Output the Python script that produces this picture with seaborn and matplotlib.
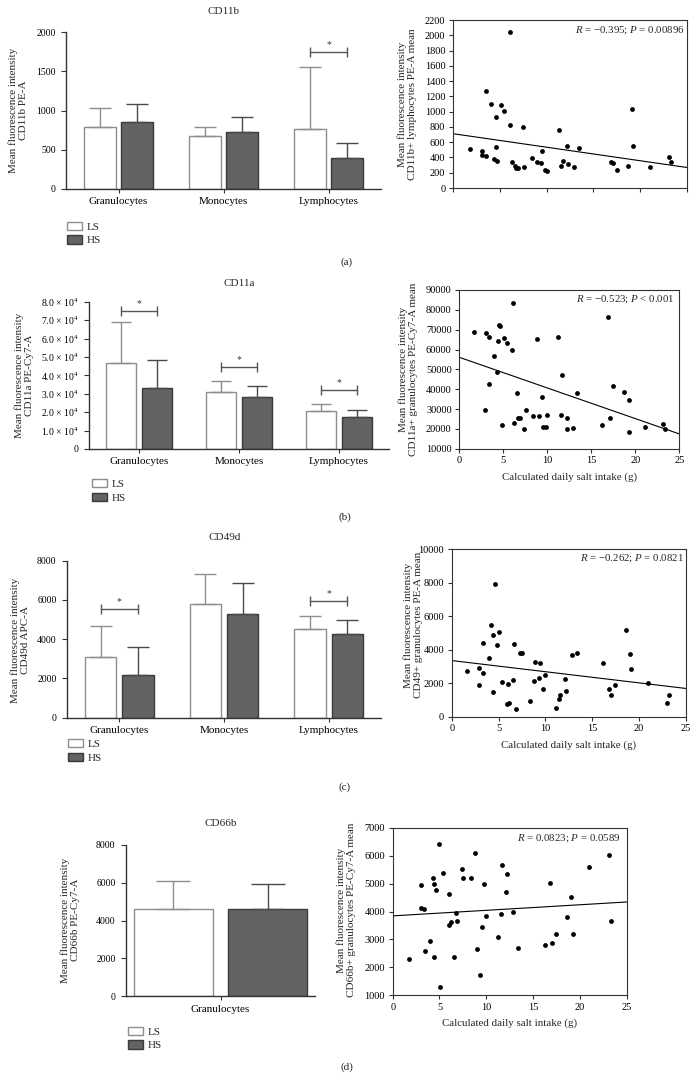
#!/bin/env python

import pandas as pd

import matplotlib
matplotlib.use('agg')
import matplotlib.pyplot as plt
from matplotlib.patches import Patch
import seaborn as sns

W, H = 700, 1089

cells = ['Granulocytes', 'Monocytes', 'Lymphocytes']
groups = ['LS', 'HS']

# bar panels: mean and SD (upper bar only)
cd11b_ls = [793, 669, 763]
cd11b_ls_sd = [239, 116, 785]
cd11b_hs = [849, 725, 392]
cd11b_hs_sd = [238, 187, 188]
cd11b_sig = {'Lymphocytes': 1748}
cd11b_ticks = [0, 500, 1000, 1500, 2000]

cd11a_ls = [46500, 30950, 20630]
cd11a_ls_sd = [22280, 5790, 3620]
cd11a_hs = [33300, 28420, 17560]
cd11a_hs_sd = [15210, 5790, 3440]
cd11a_sig = {'Granulocytes': 74750, 'Monocytes': 44350, 'Lymphocytes': 32040}
cd11a_ticks = [0, 1e4, 2e4, 3e4, 4e4, 5e4, 6e4, 7e4, 8e4]
cd11a_ticklabels = ['0'] + ['%d.0 \u00d7 10$^{4}$' % i for i in range(1, 9)]

cd49d_ls = [3074, 5775, 4518]
cd49d_ls_sd = [1614, 1563, 662]
cd49d_hs = [2174, 5265, 4263]
cd49d_hs_sd = [1444, 1580, 714]
cd49d_sig = {'Granulocytes': 5520, 'Lymphocytes': 5962}
cd49d_ticks = [0, 2000, 4000, 6000, 8000]

cd66b_ls = [4634]
cd66b_ls_sd = [1445]
cd66b_hs = [4616]
cd66b_hs_sd = [1304]
cd66b_ticks = [0, 2000, 4000, 6000, 8000]

# scatter panels: calculated daily salt intake (g) vs MFI
salt_a = [1.78, 3.05, 3.05, 3.48, 3.48, 4.08, 4.55, 4.58, 4.40, 4.72, 5.18, 5.50, 6.07, 6.14,
          6.32, 6.60, 6.78, 6.96, 7.46, 7.60, 8.49, 9.02, 9.41, 9.55, 9.84, 10.05, 11.29, 11.54,
          11.75, 12.22, 12.29, 12.93, 13.46, 16.87, 17.08, 17.51, 18.68, 19.11, 19.25, 21.02,
          23.12, 23.30]
cd11b_lymph = [506, 480, 431, 414, 1270, 1095, 934, 532, 383, 353, 1091, 1008, 2038, 824,
               335, 283, 266, 261, 794, 270, 397, 340, 327, 484, 235, 226, 759, 292,
               348, 545, 314, 270, 530, 340, 331, 231, 292, 1040, 545, 279, 405, 344]

salt_b = [1.67, 2.99, 3.37, 2.95, 3.37, 3.98, 4.32, 4.43, 4.47, 4.66, 4.89, 5.11, 5.42, 6.02,
          6.06, 6.25, 6.52, 6.70, 6.93, 7.39, 7.54, 8.41, 8.79, 9.02, 9.36, 9.55, 9.85, 9.96,
          11.25, 11.52, 11.70, 12.23, 12.20, 12.92, 13.41, 16.25, 16.86, 17.08, 17.50, 18.67,
          19.24, 19.28, 21.06, 23.14, 23.33]
cd11a_gran = [68660, 68490, 66140, 29660, 42440, 56720, 48660, 64290, 72350, 71680, 21930,
              65800, 63280, 59580, 83450, 22940, 38240, 25290, 25290, 20080, 29660, 26470,
              65460, 26470, 35880, 21090, 21090, 27140, 66140, 27140, 46980, 25630, 19750,
              20250, 37900, 22100, 76220, 25290, 41600, 38570, 34370, 18240, 21090, 22270, 19920]

salt_c = [1.64, 2.92, 2.95, 3.34, 3.34, 3.95, 4.23, 4.45, 4.59, 4.37, 4.87, 5.05, 5.33, 5.90,
          6.15, 6.05, 6.51, 6.69, 6.86, 7.29, 7.54, 8.32, 8.75, 8.93, 9.28, 9.42, 9.71, 9.92,
          11.17, 11.42, 11.59, 12.09, 12.16, 12.84, 13.37, 16.18, 16.79, 17.00, 17.39, 18.56,
          18.99, 19.13, 20.91, 23.01, 23.19]
cd49_gran = [2750, 2930, 1910, 2590, 4400, 3490, 5500, 4860, 7950, 1470, 4260, 5080, 2070, 740,
             800, 1930, 2210, 4320, 440, 3790, 3790, 920, 2110, 3250, 2290, 3210, 1670, 2490,
             540, 1060, 1300, 2230, 1530, 3690, 3810, 3190, 1670, 1280, 1870, 5200, 3750, 2830,
             2030, 800, 1320]

salt_d = [1.71, 2.99, 2.99, 3.38, 3.42, 4.02, 4.31, 4.45, 4.63, 4.45, 4.91, 5.09, 5.38, 6.02,
          6.05, 6.23, 6.55, 6.73, 6.91, 7.37, 7.55, 8.40, 8.80, 9.01, 9.33, 9.51, 9.79, 10.01,
          11.25, 11.54, 11.68, 12.14, 12.21, 12.89, 13.43, 16.24, 16.84, 17.06, 17.45, 18.66,
          19.09, 19.23, 21.01, 23.08, 23.29]
cd66_gran = [2300, 4940, 4140, 4090, 2590, 2930, 5210, 4990, 4770, 2370, 6430, 1290, 5380, 4620,
             3520, 3610, 2370, 3940, 3670, 5510, 5190, 5210, 6090, 2660, 1720, 3460, 4970, 3840,
             3080, 3900, 5680, 4690, 5340, 3980, 2690, 2810, 5010, 2860, 3180, 3820, 4520, 3180,
             5610, 6020, 3670]

fill = {'LS': 'white', 'HS': '#636363'}
edge = {'LS': '#8e8e8e', 'HS': '#3a3a3a'}
errc = {'LS': '#8e8e8e', 'HS': '#4a4a4a'}


def box(left, right, top, bottom):
    return [left / W, 1 - bottom / H, (right - left) / W, (bottom - top) / H]


def label_at(ax, cx, cy, text):
    # place the y label centred on a pixel position
    l, b, w, h = ax.get_position().bounds
    ax.set_ylabel(text, va='center', ha='center', linespacing=1.15, fontsize=8)
    ax.yaxis.set_label_coords((cx / W - l) / w, ((1 - cy / H) - b) / h)


def bar_panel(fig, pos, title, title_xy, cats, ls, ls_sd, hs, hs_sd, sig, ticks,
              ticklabels, ylabel, ylabel_xy, legend_xy, width, capsize):
    ax = fig.add_axes(box(*pos))
    df = pd.DataFrame({
        'cell': cats * 2,
        'group': ['LS'] * len(cats) + ['HS'] * len(cats),
        'mfi': ls + hs,
        'sd': ls_sd + hs_sd,
    })
    sns.barplot(data=df, x='cell', y='mfi', hue='group', hue_order=groups, order=cats,
                palette=fill, width=width, gap=0.16, errorbar=None, legend=False,
                linewidth=1.0, ax=ax)
    centers = {}
    for bar in ax.patches:
        xc = bar.get_x() + bar.get_width() / 2
        i = int(round(xc))
        g = 'LS' if xc < i else 'HS'
        bar.set_edgecolor(edge[g])
        row = df[(df['cell'] == cats[i]) & (df['group'] == g)].iloc[0]
        centers[(cats[i], g)] = xc
        ax.errorbar(xc, bar.get_height(), yerr=[[0], [row['sd']]], fmt='none',
                    ecolor=errc[g], elinewidth=1.0, capsize=capsize, capthick=1.0)
    for cell, h in sig.items():
        x1, x2 = centers[(cell, 'LS')], centers[(cell, 'HS')]
        ax.plot([x1, x2], [h, h], color='#555555', lw=1.0, marker='|', markersize=7,
                markeredgewidth=1.0)
        ax.annotate('*', xy=((x1 + x2) / 2, h), xytext=(0, 2), textcoords='offset points',
                    ha='center', va='bottom', fontsize=7, color='#333333')
    ax.set_xlim(-0.5, len(cats) - 0.5)
    ax.set_ylim(0, ticks[-1])
    ax.set_yticks(ticks)
    if ticklabels is not None:
        ax.set_yticklabels(ticklabels)
    ax.set_xlabel('')
    ax.tick_params(axis='y', labelsize=7, length=3.5, pad=4)
    ax.tick_params(axis='x', labelsize=8, length=3, pad=3)
    sns.despine(ax=ax)
    label_at(ax, ylabel_xy[0], ylabel_xy[1], ylabel)
    fig.text(title_xy[0] / W, 1 - title_xy[1] / H, title, ha='center', va='center', fontsize=8)
    handles = [Patch(facecolor=fill[g], edgecolor=edge[g], linewidth=1.0) for g in groups]
    ax.legend(handles, groups, loc='upper left', frameon=False, fontsize=8,
              bbox_to_anchor=(legend_xy[0] / W, 1 - legend_xy[1] / H),
              bbox_transform=fig.transFigure, borderpad=0, borderaxespad=0,
              handlelength=1.35, handleheight=0.78, handletextpad=0.45, labelspacing=0.32)
    return ax


def scatter_panel(fig, pos, salt, mfi, ticks, ylabel, ylabel_xy, note, note_xy,
                  xlabel=True, xticklabels=True):
    ax = fig.add_axes(box(*pos))
    ax.set_xlim(0, 25)
    sns.regplot(x=salt, y=mfi, ci=None, truncate=False, ax=ax,
                scatter_kws={'s': 12, 'color': 'black', 'linewidths': 0, 'alpha': 1},
                line_kws={'color': 'black', 'linewidth': 0.8})
    ax.set_xlim(0, 25)
    ax.set_ylim(ticks[0], ticks[-1])
    ax.set_yticks(ticks)
    ax.set_xticks([0, 5, 10, 15, 20, 25])
    if not xticklabels:
        ax.set_xticklabels([])
    for s in ax.spines.values():
        s.set_linewidth(0.8)
    ax.tick_params(labelsize=7.5, length=3, pad=2.5, width=0.8)
    if xlabel:
        ax.set_xlabel('Calculated daily salt intake (g)', fontsize=7.8, labelpad=5)
    label_at(ax, ylabel_xy[0], ylabel_xy[1], ylabel)
    ax.text(note_xy[0], note_xy[1], note, transform=ax.transAxes, ha='right', va='center',
            fontsize=7.8)
    return ax


def main():
    sns.set_style('ticks')
    plt.rcParams['font.family'] = ['Liberation Serif', 'DejaVu Serif']
    plt.rcParams['mathtext.fontset'] = 'custom'
    plt.rcParams['mathtext.rm'] = 'Liberation Serif'
    plt.rcParams['mathtext.it'] = 'Liberation Serif:italic'
    plt.rcParams['axes.edgecolor'] = '#333333'
    plt.rcParams['axes.linewidth'] = 1.0
    plt.rcParams['xtick.color'] = '#333333'
    plt.rcParams['ytick.color'] = '#333333'
    plt.rcParams['xtick.labelcolor'] = 'black'
    plt.rcParams['ytick.labelcolor'] = 'black'

    fig = plt.figure(figsize=(W / 100, H / 100), dpi=100)

    # capsize is half the cap length in points
    bar_panel(fig, (66, 381, 32, 189), 'CD11b', (223, 12), cells,
              cd11b_ls, cd11b_ls_sd, cd11b_hs, cd11b_hs_sd, cd11b_sig, cd11b_ticks, None,
              'Mean fluorescence intensity\nCD11b PE-A', (18.5, 110), (66.7, 221.7), 0.71, 8)
    bar_panel(fig, (89, 389, 301.7, 449), 'CD11a', (239, 283), cells,
              cd11a_ls, cd11a_ls_sd, cd11a_hs, cd11a_hs_sd, cd11a_sig, cd11a_ticks,
              cd11a_ticklabels, 'Mean fluorescence intensity\nCD11a PE-Cy7-A', (24, 375),
              (92, 479), 0.71, 7.5)
    bar_panel(fig, (67, 381, 560.7, 717.7), 'CD49d', (225, 538), cells,
              cd49d_ls, cd49d_ls_sd, cd49d_hs, cd49d_hs_sd, cd49d_sig, cd49d_ticks, None,
              'Mean fluorescence intensity\nCD49d APC-A', (19.7, 640), (68, 739), 0.71, 8)
    bar_panel(fig, (126, 315, 845, 996.3), 'CD66b', (221, 823), ['Granulocytes'],
              cd66b_ls, cd66b_ls_sd, cd66b_hs, cd66b_hs_sd, {}, cd66b_ticks, None,
              'Mean fluorescence intensity\nCD66b PE-Cy7-A', (70.5, 920), (127.7, 1026.7),
              1.0, 12)

    scatter_panel(fig, (453, 687, 20, 188), salt_a, cd11b_lymph, list(range(0, 2201, 200)),
                  'Mean fluorescence intensity\nCD11b+ lymphocytes PE-A mean', (407.5, 104),
                  '$R$ = \u22120.395; $P$ = 0.00896', (0.99, 0.94),
                  xlabel=False, xticklabels=False)
    scatter_panel(fig, (459.3, 679.3, 290, 448.7), salt_b, cd11a_gran,
                  list(range(10000, 90001, 10000)),
                  'Mean fluorescence intensity\nCD11a+ granulocytes PE-Cy7-A mean', (407.8, 369),
                  '$R$ = \u22120.523; $P$ < 0.001', (0.98, 0.94))
    scatter_panel(fig, (451.7, 686, 549.3, 716.7), salt_c, cd49_gran,
                  list(range(0, 10001, 2000)),
                  'Mean fluorescence intensity\nCD49+ granulocytes PE-A mean', (412.8, 625),
                  '$R$ = \u22120.262; $P$ = 0.0821', (0.99, 0.946))
    scatter_panel(fig, (392.7, 626.7, 827.7, 995.3), salt_d, cd66_gran,
                  list(range(1000, 7001, 1000)),
                  'Mean fluorescence intensity\nCD66b+ granulocytes PE-Cy7-A mean', (346, 910),
                  '$R$ = 0.0823; $P$ = 0.0589', (0.974, 0.937))

    for tag, (x, y) in zip(['(a)', '(b)', '(c)', '(d)'],
                           [(347, 262), (345, 517), (345, 787), (347, 1067)]):
        fig.text(x / W, 1 - y / H, tag, ha='center', va='center', fontsize=8)

    fig.savefig('out.png', dpi=100)
    plt.close('all')


if __name__ == '__main__':
    main()
